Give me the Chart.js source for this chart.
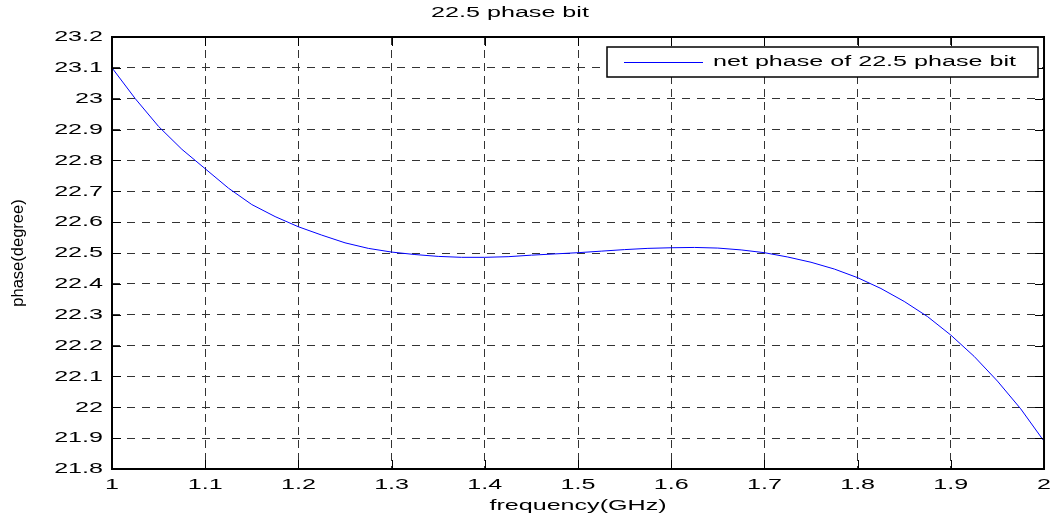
<!DOCTYPE html>
<html>
<head>
<meta charset="utf-8">
<script src="https://cdn.jsdelivr.net/npm/chart.js@4.4.1/dist/chart.umd.min.js"></script>
<style>
  html, body { margin: 0; padding: 0; background: #fff; }
  canvas { display: block; }
</style>
</head>
<body>
<canvas id="phaseChart" width="1057" height="518"></canvas>
<script>
// frequency sweep (GHz) and measured net phase (degree)
const freq = [1.000, 1.025, 1.050, 1.075, 1.100, 1.125, 1.150, 1.175, 1.200, 1.225,
              1.250, 1.275, 1.300, 1.325, 1.350, 1.375, 1.400, 1.425, 1.450, 1.475,
              1.500, 1.525, 1.550, 1.575, 1.600, 1.625, 1.650, 1.675, 1.700, 1.725,
              1.750, 1.775, 1.800, 1.825, 1.850, 1.875, 1.900, 1.925, 1.950, 1.975, 2.000];
const phase = [23.100, 23.000, 22.910, 22.836, 22.773, 22.710, 22.657, 22.618, 22.585, 22.558,
               22.533, 22.515, 22.503, 22.495, 22.489, 22.486, 22.486, 22.488, 22.493, 22.497,
               22.501, 22.506, 22.511, 22.515, 22.517, 22.518, 22.516, 22.510, 22.501, 22.487,
               22.470, 22.448, 22.420, 22.385, 22.343, 22.294, 22.234, 22.165, 22.085, 21.995, 21.890];
const xTicks = [1, 1.1, 1.2, 1.3, 1.4, 1.5, 1.6, 1.7, 1.8, 1.9, 2];
const yTicks = [21.8, 21.9, 22, 22.1, 22.2, 22.3, 22.4, 22.5, 22.6, 22.7, 22.8, 22.9, 23, 23.1, 23.2];
const chartTitle = '22.5 phase bit';
const seriesLabel = 'net phase of 22.5 phase bit';

const FONT = '"Liberation Sans", Arial, Helvetica, sans-serif';
const WIDE = 1.62;   // horizontal text is drawn wide, like the old figure export

const canvas = document.getElementById('phaseChart');
const ctx = canvas.getContext('2d');

// widen upright text; rotated text is left as is
const rawFill = ctx.fillText.bind(ctx);
const rawMeasure = ctx.measureText.bind(ctx);
ctx.fillText = function (text, x, y) {
  const t = ctx.getTransform();
  if (Math.abs(t.b) > 1e-6) { rawFill(text, x, y); return; }
  ctx.save();
  ctx.translate(x, y);
  ctx.scale(WIDE, 1);
  rawFill(text, 0, 0);
  ctx.restore();
};
ctx.measureText = function (text) {
  const m = rawMeasure(text);
  return {
    width: m.width * WIDE,
    actualBoundingBoxAscent: m.actualBoundingBoxAscent,
    actualBoundingBoxDescent: m.actualBoundingBoxDescent
  };
};

const fmt = v => String(Math.round(v * 10) / 10);

// axes box with inward ticks on all four sides
const frame = {
  id: 'frame',
  afterDatasetsDraw(chart) {
    const { ctx, chartArea: a, scales } = chart;
    const len = 9;
    ctx.save();
    ctx.strokeStyle = '#000';
    ctx.lineWidth = 1;
    ctx.beginPath();
    xTicks.forEach(v => {
      const px = Math.round(scales.x.getPixelForValue(v)) + 0.5;
      ctx.moveTo(px, a.bottom); ctx.lineTo(px, a.bottom - len);
      ctx.moveTo(px, a.top); ctx.lineTo(px, a.top + len);
    });
    yTicks.forEach(v => {
      const py = Math.round(scales.y.getPixelForValue(v)) + 0.5;
      ctx.moveTo(a.left, py); ctx.lineTo(a.left + len, py);
      ctx.moveTo(a.right, py); ctx.lineTo(a.right - len, py);
    });
    ctx.stroke();
    ctx.lineWidth = 2;
    ctx.strokeRect(a.left, a.top, a.right - a.left, a.bottom - a.top);
    ctx.restore();
  }
};

// title and boxed legend
const annotate = {
  id: 'annotate',
  afterDraw(chart) {
    const { ctx } = chart;
    ctx.save();
    ctx.font = '15.5px ' + FONT;
    ctx.fillStyle = '#000';
    ctx.textBaseline = 'middle';
    ctx.textAlign = 'center';
    ctx.fillText(chartTitle, 510, 13);

    const bx = 607, by = 47, bw = 431, bh = 30;
    ctx.fillStyle = '#fff';
    ctx.fillRect(bx, by, bw, bh);
    ctx.strokeStyle = '#000';
    ctx.lineWidth = 1.5;
    ctx.strokeRect(bx, by, bw, bh);
    const ds = chart.data.datasets[0];
    ctx.strokeStyle = ds.borderColor;
    ctx.lineWidth = 1;
    ctx.beginPath();
    ctx.moveTo(624, 62.5);
    ctx.lineTo(703, 62.5);
    ctx.stroke();
    ctx.fillStyle = '#000';
    ctx.textAlign = 'left';
    ctx.fillText(ds.label, 713, 62);
    ctx.restore();
  }
};

new Chart(canvas, {
  type: 'line',
  data: {
    datasets: [{
      label: seriesLabel,
      data: freq.map((f, i) => ({ x: f, y: phase[i] })),
      borderColor: '#0000ff',
      borderWidth: 1,
      pointRadius: 0,
      tension: 0,
      fill: false
    }]
  },
  options: {
    responsive: false,
    animation: false,
    layout: { padding: { top: 37, right: 7, left: 0, bottom: 0 } },
    plugins: { legend: { display: false }, title: { display: false }, tooltip: { enabled: false } },
    scales: {
      x: {
        type: 'linear',
        min: 1,
        max: 2,
        afterBuildTicks: s => { s.ticks = xTicks.map(v => ({ value: v })); },
        afterFit: s => { s.height = 49; },
        grid: { color: '#333', lineWidth: 1, drawTicks: false },
        border: { display: false, dash: [8, 5] },
        ticks: { color: '#000', padding: 6, maxRotation: 0, autoSkip: false,
                 font: { family: FONT, size: 15.5 }, callback: fmt },
        title: { display: true, text: 'frequency(GHz)', color: '#000',
                 font: { family: FONT, size: 15.5 }, padding: { top: 0, bottom: 3 } }
      },
      y: {
        type: 'linear',
        min: 21.8,
        max: 23.2,
        afterBuildTicks: s => { s.ticks = yTicks.map(v => ({ value: v })); },
        afterFit: s => { s.width = 112; },
        grid: { color: '#333', lineWidth: 1, drawTicks: false },
        border: { display: false, dash: [8, 7] },
        ticks: { color: '#000', padding: 9, autoSkip: false,
                 font: { family: FONT, size: 15.5 }, callback: fmt },
        title: { display: true, text: 'phase(degree)', color: '#000',
                 font: { family: FONT, size: 16.5 }, padding: { top: 9, bottom: 0 } }
      }
    }
  },
  plugins: [frame, annotate]
});
</script>
</body>
</html>
